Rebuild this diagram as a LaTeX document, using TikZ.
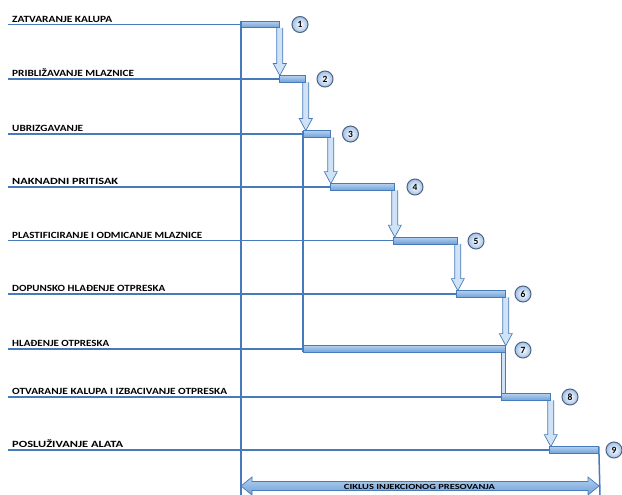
\documentclass[tikz,border=0pt]{standalone}
\usepackage{fontspec}
\usepackage{graphicx}
\setmainfont{Carlito}
\usetikzlibrary{calc}
\definecolor{lineblue}{RGB}{70,122,185}
\definecolor{barfill}{RGB}{112,160,215}
\definecolor{barlight}{RGB}{178,208,240}
\definecolor{arrfill}{RGB}{208,226,245}
\definecolor{circfill}{RGB}{160,192,230}
\definecolor{circdraw}{RGB}{80,100,130}
\newcommand{\wtext}[2]{\resizebox{#1pt}{\height}{#2}}
\newcommand{\dnarrow}[2]{%
  \draw[blk] let \p1=#1, \p2=#2 in
    (\x1-3pt,\y1) -- (\x1-3pt,\y2+12pt) -- (\x1-6.5pt,\y2+12pt) -- (\x1,\y2)
    -- (\x1+6.5pt,\y2+12pt) -- (\x1+3pt,\y2+12pt) -- (\x1+3pt,\y1);}
\begin{document}
\begin{tikzpicture}[x=1pt,y=-1pt,
  stepline/.style={draw=lineblue, line width=1.5pt},
  lbl/.style={font=\fontsize{9.5}{10}\selectfont\bfseries, text=black, anchor=base west, inner sep=0},
  bar/.style={draw=lineblue, line width=0.8pt, top color=barlight, bottom color=barfill, minimum height=6pt, inner sep=0, anchor=west, rectangle},
  num/.style={circle, draw=circdraw, line width=1pt, inner color=white, outer color=circfill, minimum size=16pt, inner sep=0, font=\fontsize{9.5}{9}\selectfont\bfseries},
  blk/.style={draw=lineblue, line width=0.7pt, fill=arrfill},
]
\useasboundingbox (0,0) rectangle (622,495);
% bars
\node[bar, minimum width=38pt]  (b1) at (241,24.5) {};
\node[bar, minimum width=26pt]  (b2) at (279,79) {};
\node[bar, minimum width=27pt]  (b3) at (303,134) {};
\node[bar, minimum width=64pt]  (b4) at (330,187) {};
\node[bar, minimum width=64pt]  (b5) at (393,240.5) {};
\node[bar, minimum width=49pt]  (b6) at (456,294) {};
\node[bar, minimum width=202pt] (b7) at (303,349) {};
\node[bar, minimum width=49pt]  (b8) at (501,397) {};
\node[bar, minimum width=49pt]  (b9) at (549,450) {};
% row start points
\foreach \i/\y in {1/24.5,2/79,3/134,4/187,5/240.5,6/294,7/349,8/397,9/450}
  \coordinate (s\i) at (8,\y);
% labels
\node[lbl] (t1) at (12,22.2) {\wtext{100}{ZATVARANJE KALUPA}};
\node[lbl] (t2) at (12,76.7) {\wtext{122}{PRIBLIŽAVANJE MLAZNICE}};
\node[lbl] (t3) at (12,131.7) {\wtext{71}{UBRIZGAVANJE}};
\node[lbl] (t4) at (12,184.7) {\wtext{106}{NAKNADNI PRITISAK}};
\node[lbl] (t5) at (12,238.2) {\wtext{190}{PLASTIFICIRANJE I ODMICANJE MLAZNICE}};
\node[lbl] (t6) at (12,291.7) {\wtext{153}{DOPUNSKO HLAĐENJE OTPRESKA}};
\node[lbl] (t7) at (12,346.7) {\wtext{97}{HLAĐENJE OTPRESKA}};
\node[lbl] (t8) at (12,394.7) {\wtext{215}{OTVARANJE KALUPA I IZBACIVANJE OTPRESKA}};
\node[lbl] (t9) at (12,447.7) {\wtext{111}{POSLUŽIVANJE ALATA}};
% horizontal lines
\foreach \i in {1,...,9} \draw[stepline] (s\i) -- (b\i.west);
% vertical lines
\coordinate (v1b) at (241,495);
\coordinate (v3b) at (600,495);
\draw[stepline] (b1.north west) -- (v1b);
\draw[stepline] (b3.north west) -- (b7.south west);
\draw[stepline] (b9.north east) -- (v3b);
% block arrows
\dnarrow{(b1.south east)}{(b2.north west)}
\dnarrow{(b2.south east)}{(b3.north west)}
\dnarrow{(b3.south east)}{(b4.north west)}
\dnarrow{(b4.south east)}{(b5.north west)}
\dnarrow{(b5.south east)}{(b6.north west)}
\dnarrow{(b6.south east)}{(b7.north east)}
\draw[blk] let \p1=(b7.south east), \p2=(b8.north west) in
  (\x1-4pt,\y1) rectangle (\x1,\y2);
\dnarrow{(b8.south east)}{(b9.north west)}
% redraw bars on top
\foreach \i in {1,...,9} \path[bar] (b\i.north west) rectangle (b\i.south east);
% numbers
\node[num] (n1) at (300,24.5) {1};
\node[num] (n2) at (325,79) {2};
\node[num] (n3) at (350.5,134) {3};
\node[num] (n4) at (415,187) {4};
\node[num] (n5) at (476,241) {5};
\node[num] (n6) at (523,294) {6};
\node[num] (n7) at (523,350) {7};
\node[num] (n8) at (570,397) {8};
\node[num] (n9) at (614,450) {9};
% cycle double arrow
\coordinate (dl) at (241,486);
\coordinate (dr) at (599,486);
\draw[blk, top color=barlight, bottom color=barfill] (dl) -- ++(11,-9) -- ++(0,4.5) -- ($(dr)+(-11,-4.5)$) -- ++(0,-4.5) -- (dr)
  -- ++(-11,9) -- ++(0,-4.5) -- ($(dl)+(11,4.5)$) -- ++(0,4.5) -- cycle;
\node[font=\fontsize{7.8}{8}\selectfont\bfseries, text=black, inner sep=0] (cyc) at (419.5,486.5) {\wtext{151}{CIKLUS INJEKCIONOG PRESOVANJA}};
\end{tikzpicture}
\end{document}
